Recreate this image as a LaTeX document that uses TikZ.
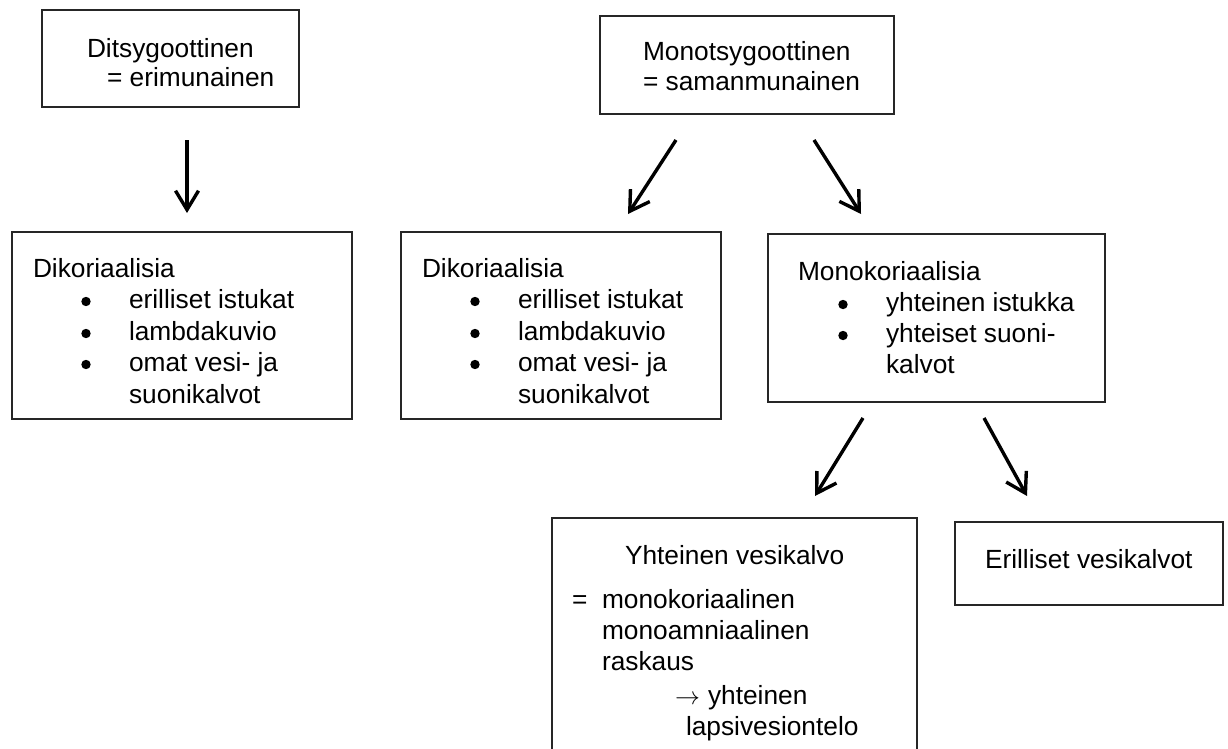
\documentclass[tikz,border=0pt]{standalone}
\usepackage{fontspec}
\setmainfont{Liberation Sans}
\usetikzlibrary{arrows.meta}
\begin{document}
\begin{tikzpicture}[x=1pt,y=-1pt,
  box/.style={draw=black!85, line width=1.1pt, inner sep=0pt, outer sep=0pt, anchor=north west},
  txt/.style={anchor=base west, inner sep=0pt, outer sep=0pt, font=\fontsize{26.3}{31}\selectfont},
  bul/.style={circle, fill=black, inner sep=0pt, outer sep=0pt, minimum size=9.4pt},
  arr/.style={line width=3.4pt, -{Straight Barb[length=19pt,width=23pt]}}]
\useasboundingbox (0,0) rectangle (1228,749);
\clip (0,0) rectangle (1228,749);
% boxes
\node[box, minimum width=257pt, minimum height=97pt] (b1) at (42,10) {};
\node[box, minimum width=294pt, minimum height=98pt] (b2) at (600,16) {};
\node[box, minimum width=340pt, minimum height=187pt] (b3) at (12,232) {};
\node[box, minimum width=320pt, minimum height=187pt] (b4) at (401,232) {};
\node[box, minimum width=337pt, minimum height=168pt] (b5) at (768,234) {};
\node[box, minimum width=365pt, minimum height=260pt] (b6) at (552,518) {};
\node[box, minimum width=268pt, minimum height=83pt] (b7) at (955,522) {};
% box 1
\node[txt] (t1a) at (87,58) {Ditsygoottinen};
\node[txt] (t1b) at (107,87) {= erimunainen};
% box 2
\node[txt] (t2a) at (643,61) {Monotsygoottinen};
\node[txt] (t2b) at (643,91) {= samanmunainen};
% box 3
\node[txt] (t3a) at (33,277) {Dikoriaalisia};
\node[bul] (d3a) at (86,301.5) {};
\node[txt] (t3b) at (129,308) {erilliset istukat};
\node[bul] (d3b) at (86,333.5) {};
\node[txt] (t3c) at (129,340) {lambdakuvio};
\node[bul] (d3c) at (86,364.5) {};
\node[txt] (t3d) at (129,371) {omat vesi- ja};
\node[txt] (t3e) at (129,403) {suonikalvot};
% box 4
\node[txt] (t4a) at (422,277) {Dikoriaalisia};
\node[bul] (d4a) at (475,301.5) {};
\node[txt] (t4b) at (518,308) {erilliset istukat};
\node[bul] (d4b) at (475,333.5) {};
\node[txt] (t4c) at (518,340) {lambdakuvio};
\node[bul] (d4c) at (475,364.5) {};
\node[txt] (t4d) at (518,371) {omat vesi- ja};
\node[txt] (t4e) at (518,403) {suonikalvot};
% box 5
\node[txt] (t5a) at (798,280) {Monokoriaalisia};
\node[bul] (d5a) at (843,304.5) {};
\node[txt] (t5b) at (886,311) {yhteinen istukka};
\node[bul] (d5b) at (843,335.5) {};
\node[txt] (t5c) at (886,342) {yhteiset suoni-};
\node[txt] (t5d) at (886,373) {kalvot};
% box 6
\node[txt] (t6a) at (625,564) {Yhteinen vesikalvo};
\node[txt] (t6b) at (572,608) {=};
\node[txt] (t6c) at (602,608) {monokoriaalinen};
\node[txt] (t6d) at (602,639) {monoamniaalinen};
\node[txt] (t6e) at (602,670) {raskaus};
\node[txt] (t6f) at (675,704) {$\rightarrow$};
\node[txt] (t6g) at (708,704) {yhteinen};
\node[txt] (t6h) at (686,735) {lapsivesiontelo};
% box 7
\node[txt] (t7a) at (985,568) {Erilliset vesikalvot};
% arrows
\coordinate (a1s) at (187,140); \coordinate (a1e) at (187,213);
\coordinate (a2s) at (676,140); \coordinate (a2e) at (628,214);
\coordinate (a3s) at (814,140); \coordinate (a3e) at (861,214);
\coordinate (a4s) at (863,418); \coordinate (a4e) at (815,496);
\coordinate (a5s) at (984,418); \coordinate (a5e) at (1027,496);
\draw[arr] (a1s) -- (a1e);
\draw[arr] (a2s) -- (a2e);
\draw[arr] (a3s) -- (a3e);
\draw[arr] (a4s) -- (a4e);
\draw[arr] (a5s) -- (a5e);
\end{tikzpicture}
\end{document}
